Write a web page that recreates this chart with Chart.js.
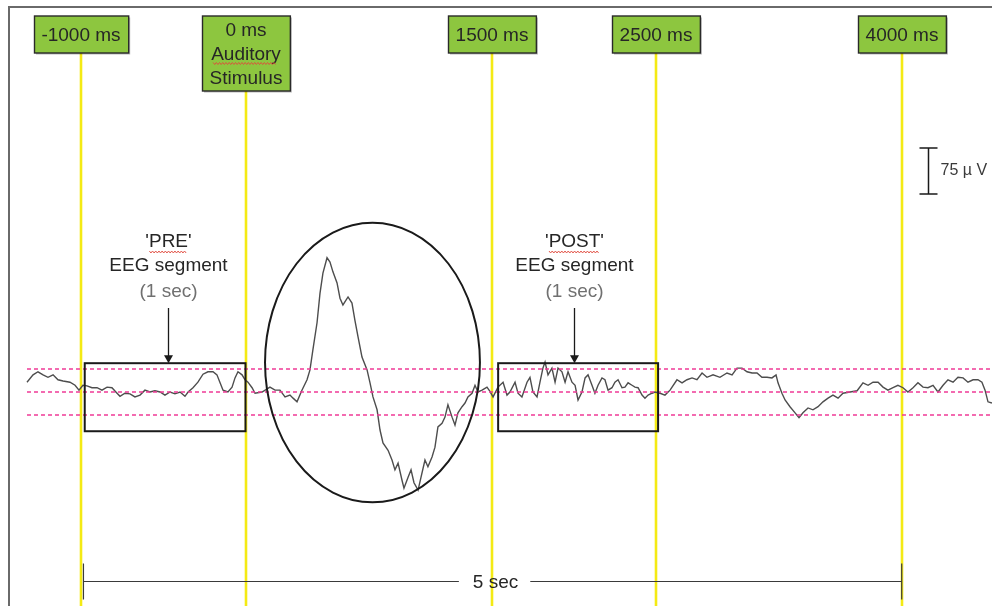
<!DOCTYPE html>
<html>
<head>
<meta charset="utf-8">
<script src="https://cdn.jsdelivr.net/npm/chart.js@4.4.1/dist/chart.umd.min.js"></script>
<style>
  html, body { margin: 0; padding: 0; background: #ffffff; }
  #wrap { width: 992px; height: 606px; }
</style>
</head>
<body>
<div id="wrap"><canvas id="eeg" width="992" height="606"></canvas></div>
<script>
// Single-channel EEG trace: time relative to the auditory stimulus (ms) and amplitude (µV)
const timesMs = [
  -1332, -1295, -1265, -1234, -1204, -1173, -1143, -1112, -1070, -1039, -1015, -991, -966, -936, -905, -875,
  -844, -814, -783, -765, -735, -704, -674, -643, -613, -582, -552, -521, -491, -460, -430, -399, -369, -350,
  -320, -290, -259, -229, -198, -174, -155, -137, -107, -82, -64, -46, -21, -3, 15, 40, 58,
  101, 149, 180, 210, 241, 271, 290, 314, 344, 375, 393, 411, 436, 454, 472, 497, 515, 533, 558, 576, 594,
  625, 649, 667, 686, 710, 741, 759, 777, 802, 820, 838, 869, 893, 911, 930, 954, 966, 991, 1009, 1027,
  1052, 1070, 1094, 1112, 1137, 1155, 1173, 1198, 1216, 1234, 1259, 1277, 1295, 1320, 1338, 1356, 1381,
  1399, 1417, 1442, 1472, 1490, 1509, 1539, 1570, 1594, 1612, 1643, 1661, 1685, 1716, 1734, 1752, 1777,
  1795, 1813, 1826, 1844, 1868, 1887, 1905, 1929, 1948, 1966, 1990, 2009, 2027, 2051, 2070, 2088, 2112,
  2130, 2149, 2173, 2191, 2210, 2234, 2252, 2271, 2295, 2313, 2332, 2356, 2374, 2393, 2417, 2435, 2454,
  2478, 2496, 2527, 2557, 2588, 2630, 2661, 2691, 2722, 2752, 2783, 2813, 2850, 2892, 2935, 2966, 2996,
  3027, 3057, 3088, 3118, 3148, 3179, 3209, 3234, 3246, 3270, 3289, 3319, 3350, 3374, 3398, 3429, 3459,
  3490, 3520, 3551, 3581, 3612, 3642, 3685, 3728, 3764, 3795, 3825, 3856, 3886, 3916, 3947, 3977, 4008,
  4038, 4069, 4099, 4130, 4160, 4191, 4221, 4252, 4282, 4313, 4343, 4374, 4404, 4435, 4465, 4489, 4508,
  4526, 4550
];
const microvolts = [
  16, 28, 33, 28, 24, 28, 20, 18, 16, 11, 3, 11, 10, 7, 7, 3,
  8, 7, -2, -7, -2, -3, -8, -5, 3, 0, 2, 0, -5, 0, -3, 0, -7, 0,
  7, 16, 29, 33, 33, 28, 15, 3, 0, 8, 23, 33, 28, 20, 16, 7, -2,
  0, 8, 3, 3, -8, -5, -10, -16, 3, 20, 36, 69, 113, 161, 194, 219, 212, 196, 178, 153, 142,
  155, 145, 117, 90, 57, 36, 15, -8, -29, -62, -83, -95, -111, -127, -116, -144, -157, -139, -127, -148,
  -160, -139, -111, -122, -106, -90, -57, -51, -41, -21, -41, -54, -34, -24, -18, -8, -2,
  11, 0, 3, 8, 1, -8, 8, 16, -5, 0, 16, -2, -8, 16, 24, 0, -8,
  16, 39, 49, 28, 39, 16, 39, 33, 16, 33, 16, 11, -13, 0, 23, 28, 11,
  -2, 11, 23, 20, 3, 7, 16, 20, 7, 8, 15, 11, 8, 7, -5, -10, -5,
  -2, 0, -2, -5, 3, 20, 15, 20, 23, 20, 31, 24, 28, 24, 31, 28, 39,
  39, 33, 31, 31, 24, 24, 23, 28, 15, -2, -13, -24, -34, -42, -34, -26, -29,
  -24, -16, -10, -5, -10, -2, 0, 2, 15, 11, 16, 16, 8, 3, 7, 11, 7,
  0, 7, 15, 8, 7, 11, 0, 11, 20, 16, 24, 23, 16, 20, 20, 16, 3,
  -16, -18
];

// Event markers on the time axis
const markerTimesMs = [-1000, 0, 1500, 2500, 4000];
const markerLabels = [["-1000 ms"], ["0 ms", "Auditory", "Stimulus"], ["1500 ms"], ["2500 ms"], ["4000 ms"]];

// Reference amplitude levels (µV)
const referenceLevelsUv = [37.5, 0, -37.5];

// 1-second analysis windows before and after the evoked response
const segmentNames = ["'PRE'", "'POST'"];
const segmentStartMs = [-980, 1540];
const segmentEndMs = [0, 2515];
const segmentArrowMs = [-475, 2000];
const segmentRangeUv = [47, -64];

// Evoked response region (centre and half-extents)
const erpCentreMs = 774;
const erpHalfWidthMs = 655;
const erpCentreUv = 48;
const erpHalfHeightUv = 228;

// Calibration bar and total duration bar
const calibrationUv = 75;
const calibrationAtMs = 4160;
const calibrationBaseUv = 323;
const durationStartMs = -1000;
const durationEndMs = 4000;
const durationLevelUv = -308;
const durationLabel = "5 sec";

const FONT = '"Liberation Sans", Arial, Helvetica, sans-serif';
const INK = '#262626';

function squiggle(ctx, x0, x1, y) {
  ctx.save();
  ctx.strokeStyle = '#e0483c';
  ctx.lineWidth = 0.9;
  ctx.beginPath();
  let k = 0;
  for (let xx = x0; xx <= x1; xx += 1.6, k++) {
    const yy = y + (k % 2 ? 1 : -1);
    if (k === 0) ctx.moveTo(xx, yy); else ctx.lineTo(xx, yy);
  }
  ctx.stroke();
  ctx.restore();
}

function boxHeight(n) { return n === 1 ? 37 : 37 + (n - 1) * 19; }
const BOX_TOP = 16;

const overlay = {
  id: 'eegOverlay',
  beforeDatasetsDraw(chart) {
    const { ctx, scales: { x } } = chart;
    ctx.save();
    // outer frame
    ctx.strokeStyle = '#6a6a6a';
    ctx.lineWidth = 2;
    ctx.beginPath();
    ctx.moveTo(9, chart.height);
    ctx.lineTo(9, 7);
    ctx.lineTo(chart.width, 7);
    ctx.stroke();
    // marker lines
    ctx.strokeStyle = '#f4ea14';
    ctx.lineWidth = 2.6;
    markerTimesMs.forEach((t, i) => {
      const px = Math.round(x.getPixelForValue(t));
      ctx.beginPath();
      ctx.moveTo(px, BOX_TOP + boxHeight(markerLabels[i].length));
      ctx.lineTo(px, chart.height);
      ctx.stroke();
    });
    ctx.restore();
  },
  afterDatasetsDraw(chart) {
    const { ctx, scales: { x, y } } = chart;
    ctx.save();

    // reference levels
    ctx.strokeStyle = '#ef3a96';
    ctx.lineWidth = 1.6;
    ctx.setLineDash([4, 3]);
    const x0 = x.getPixelForValue(timesMs[0]);
    referenceLevelsUv.forEach(v => {
      const py = Math.round(y.getPixelForValue(v));
      ctx.beginPath();
      ctx.moveTo(x0, py);
      ctx.lineTo(chart.width, py);
      ctx.stroke();
    });
    ctx.setLineDash([]);

    // analysis windows, captions and arrows
    segmentNames.forEach((name, i) => {
      const l = x.getPixelForValue(segmentStartMs[i]);
      const r = x.getPixelForValue(segmentEndMs[i]);
      const t = y.getPixelForValue(segmentRangeUv[0]);
      const b = y.getPixelForValue(segmentRangeUv[1]);
      ctx.strokeStyle = '#1a1a1a';
      ctx.lineWidth = 2;
      ctx.strokeRect(l, t, r - l, b - t);

      const ax = Math.round(x.getPixelForValue(segmentArrowMs[i])) + 0.5;
      ctx.lineWidth = 1.3;
      ctx.beginPath();
      ctx.moveTo(ax, 308);
      ctx.lineTo(ax, t - 6);
      ctx.stroke();
      ctx.fillStyle = '#1a1a1a';
      ctx.beginPath();
      ctx.moveTo(ax - 4.5, t - 8);
      ctx.lineTo(ax + 4.5, t - 8);
      ctx.lineTo(ax, t);
      ctx.closePath();
      ctx.fill();

      ctx.textAlign = 'center';
      ctx.textBaseline = 'middle';
      ctx.font = '19px ' + FONT;
      ctx.fillStyle = INK;
      ctx.fillText(name, ax, 242);
      const w = ctx.measureText(name).width;
      squiggle(ctx, ax - w / 2 + 4, ax + w / 2 - 4, 252);
      ctx.fillStyle = INK;
      ctx.fillText('EEG segment', ax, 266);
      ctx.fillStyle = '#707070';
      ctx.fillText('(1 sec)', ax, 292);
    });

    // evoked response region
    ctx.strokeStyle = '#1a1a1a';
    ctx.lineWidth = 2;
    const cx = x.getPixelForValue(erpCentreMs);
    const cy = y.getPixelForValue(erpCentreUv);
    const rx = x.getPixelForValue(erpCentreMs + erpHalfWidthMs) - cx;
    const ry = y.getPixelForValue(erpCentreUv - erpHalfHeightUv) - cy;
    ctx.beginPath();
    ctx.ellipse(cx, cy, rx, ry, 0, 0, Math.PI * 2);
    ctx.stroke();

    // marker labels
    ctx.font = '19px ' + FONT;
    markerTimesMs.forEach((t, i) => {
      const lines = markerLabels[i];
      const px = Math.round(x.getPixelForValue(t));
      const w = Math.max(...lines.map(s => ctx.measureText(s).width)) + 15;
      const h = boxHeight(lines.length);
      const left = Math.round(px - w / 2) + 0.5;
      ctx.fillStyle = 'rgba(0,0,0,0.28)';
      ctx.fillRect(left + 1.5, BOX_TOP + 1.5, w, h);
      ctx.fillStyle = '#8dc63f';
      ctx.fillRect(left, BOX_TOP, w, h);
      ctx.strokeStyle = '#2a2a2a';
      ctx.lineWidth = 1.4;
      ctx.strokeRect(left, BOX_TOP, w, h);
      ctx.fillStyle = INK;
      ctx.textAlign = 'center';
      ctx.textBaseline = 'middle';
      const cyBox = BOX_TOP + h / 2 + 1;
      lines.forEach((s, k) => {
        const ly = cyBox + (k - (lines.length - 1) / 2) * 24;
        ctx.fillText(s, px, ly);
        if (s === 'Auditory') {
          const sw = ctx.measureText(s).width;
          squiggle(ctx, px - sw / 2 + 2, px + sw / 2 - 4, ly + 9);
          ctx.fillStyle = INK;
        }
      });
    });

    // calibration bar
    const bx = Math.round(x.getPixelForValue(calibrationAtMs)) + 0.5;
    const by0 = y.getPixelForValue(calibrationBaseUv);
    const by1 = y.getPixelForValue(calibrationBaseUv + calibrationUv);
    ctx.strokeStyle = '#1a1a1a';
    ctx.lineWidth = 1.5;
    ctx.beginPath();
    ctx.moveTo(bx, by0); ctx.lineTo(bx, by1);
    ctx.moveTo(bx - 9, by0); ctx.lineTo(bx + 9, by0);
    ctx.moveTo(bx - 9, by1); ctx.lineTo(bx + 9, by1);
    ctx.stroke();
    ctx.font = '16px ' + FONT;
    ctx.fillStyle = '#3a3a3a';
    ctx.textAlign = 'left';
    ctx.textBaseline = 'middle';
    ctx.fillText(calibrationUv + ' \u00b5 V', bx + 12, (by0 + by1) / 2);

    // duration bar
    const dl = x.getPixelForValue(durationStartMs) + 2;
    const dr = x.getPixelForValue(durationEndMs);
    const dy = Math.round(y.getPixelForValue(durationLevelUv)) + 0.5;
    const mid = (dl + dr) / 2 + 3;
    ctx.font = '19px ' + FONT;
    const tw = ctx.measureText(durationLabel).width;
    ctx.strokeStyle = '#3a3a3a';
    ctx.lineWidth = 1.2;
    ctx.beginPath();
    ctx.moveTo(dl, dy); ctx.lineTo(mid - tw / 2 - 14, dy);
    ctx.moveTo(mid + tw / 2 + 12, dy); ctx.lineTo(dr, dy);
    ctx.moveTo(dl, dy - 18); ctx.lineTo(dl, dy + 18);
    ctx.moveTo(dr, dy - 18); ctx.lineTo(dr, dy + 18);
    ctx.stroke();
    ctx.fillStyle = INK;
    ctx.textAlign = 'center';
    ctx.fillText(durationLabel, mid, dy + 1);

    ctx.restore();
  }
};

new Chart(document.getElementById('eeg'), {
  type: 'line',
  data: {
    datasets: [{
      label: 'EEG',
      data: timesMs.map((t, i) => ({ x: t, y: microvolts[i] })),
      borderColor: '#4d4d4d',
      borderWidth: 1.4,
      pointRadius: 0,
      tension: 0,
      fill: false
    }]
  },
  options: {
    responsive: false,
    devicePixelRatio: 1,
    animation: false,
    layout: { padding: 0 },
    plugins: { legend: { display: false }, tooltip: { enabled: false } },
    scales: {
      x: { type: 'linear', min: -1496.5, max: 4550.4, display: false },
      y: { type: 'linear', min: -349.1, max: 639.5, display: false }
    }
  },
  plugins: [overlay]
});
</script>
</body>
</html>
